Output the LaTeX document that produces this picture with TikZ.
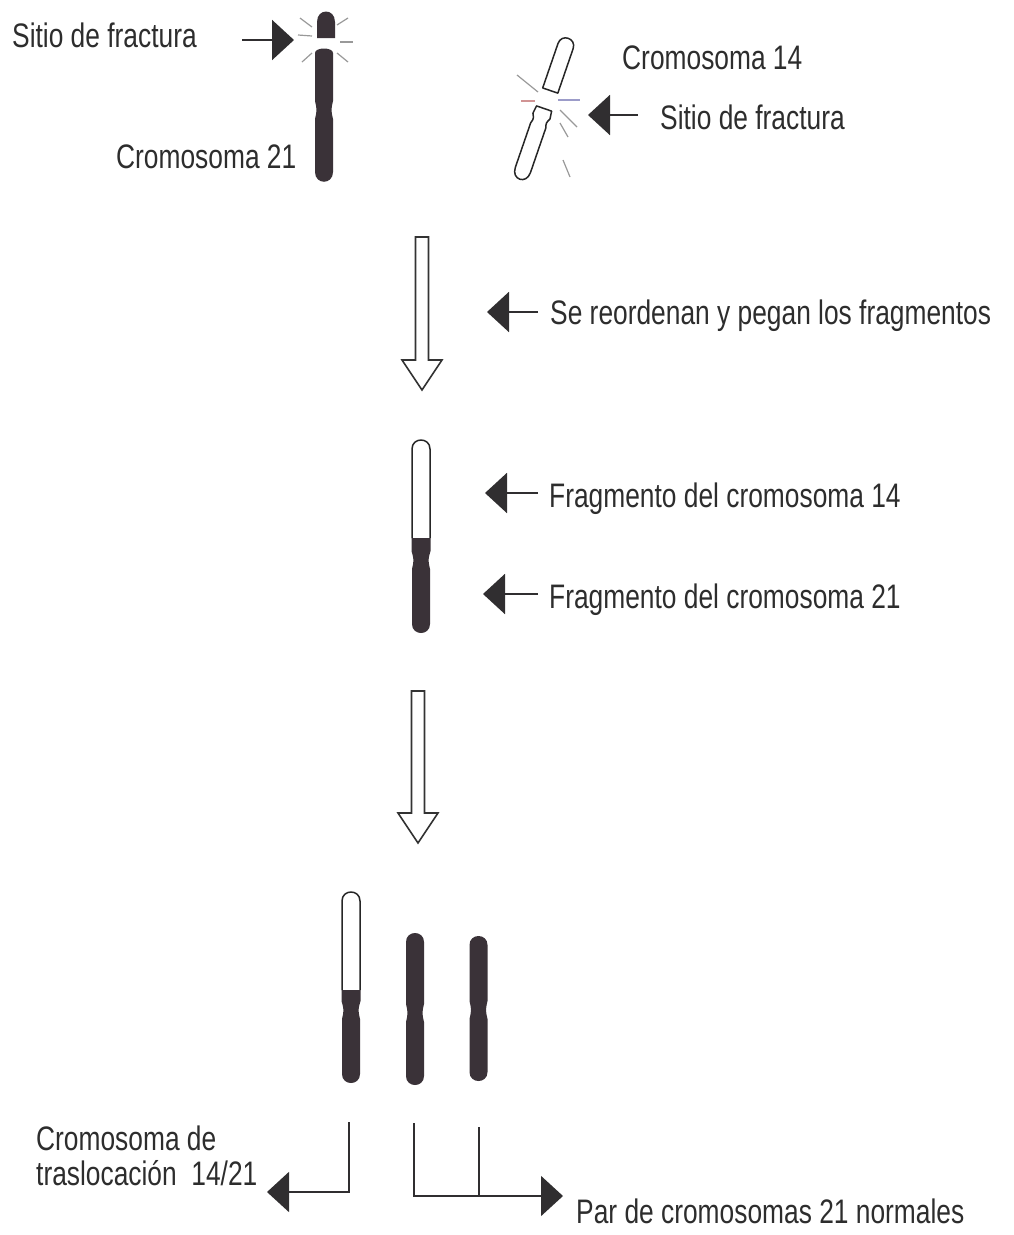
\documentclass[tikz,border=0pt]{standalone}
\usepackage{fontspec}
\setmainfont{Liberation Sans}[FakeStretch=0.775]
\usetikzlibrary{arrows.meta}

\definecolor{chromfill}{RGB}{58,50,56}
\definecolor{txtgray}{RGB}{45,45,45}
\definecolor{arrgray}{RGB}{48,46,48}

% dark chromosome: centre x, top, bottom, centromere
\newcommand{\chromdark}[4]{%
\fill[chrom] (#1-9,#2+9) .. controls (#1-9,#2-3) and (#1+9,#2-3) .. (#1+9,#2+9) -- (#1+9,#4-9) .. controls (#1+7,#4) .. (#1+9,#4+9) -- (#1+9,#3-9) .. controls (#1+9,#3+3) and (#1-9,#3+3) .. (#1-9,#3-9) -- (#1-9,#4+9) .. controls (#1-7,#4) .. (#1-9,#4-9) -- cycle;}
% 14/21 chromosome: centre x, top, join, bottom, centromere
\newcommand{\chromswap}[5]{%
\draw[outl] (#1-9,#3) -- (#1-9,#2+9) .. controls (#1-9,#2-3) and (#1+9,#2-3) .. (#1+9,#2+9) -- (#1+9,#3);
\fill[chrom] (#1-9.5,#3) -- (#1+9.5,#3) -- (#1+9.5,#5-9) .. controls (#1+7,#5) .. (#1+9,#5+9) -- (#1+9,#4-9) .. controls (#1+9,#4+3) and (#1-9,#4+3) .. (#1-9,#4-9) -- (#1-9,#5+9) .. controls (#1-7,#5) .. (#1-9.5,#5-9) -- cycle;}
% open block arrow: centre x, top, head start, tip
\newcommand{\hollowarrow}[4]{%
\draw[hollow] (#1-6.5,#2) -- (#1+6.5,#2) -- (#1+6.5,#3) -- (#1+20,#3) -- (#1,#4) -- (#1-20,#3) -- (#1-6.5,#3) -- cycle;}

\begin{document}
\begin{tikzpicture}[x=1pt,y=1pt,yscale=-1,xscale=1,
  lbl/.style={font=\fontsize{34}{39}\selectfont, text=txtgray, inner sep=0pt, text height=25pt, text depth=0pt, anchor=west},
  pointer/.style={draw=arrgray, line width=2.2pt, -{Triangle[length=22pt,width=40pt]}},
  bracket/.style={draw=arrgray, line width=1.6pt},
  bracketarrow/.style={bracket, -{Triangle[length=22pt,width=40pt]}},
  burst/.style={draw=gray!80, line width=1.2pt},
  chrom/.style={fill=chromfill},
  outl/.style={draw=black!85, line width=1.5pt, fill=white, line join=round},
  hollow/.style={draw=black!80, line width=1.6pt, fill=white, line join=miter}]
\useasboundingbox (0,0) rectangle (1014,1235);

%Chromosome 21 broken at the top
\fill[chrom] (317,38) -- (317,22) .. controls (317,8) and (335,8) .. (335,22) -- (335,38) -- cycle;
\fill[chrom] (315,53) .. controls (315,47) and (333,47) .. (333,53) -- (333,101) .. controls (331,110) .. (333,119) -- (333,172) .. controls (333,185) and (315,185) .. (315,172) -- (315,119) .. controls (317,110) .. (315,101) -- cycle;
\draw[burst] (300,18) -- (312,27);
\draw[burst] (298,35) -- (312,36);
\draw[burst] (302,62) -- (312,53);
\draw[burst] (337,25) -- (348,18);
\draw[burst] (340,42) -- (353,42);
\draw[burst] (337,53) -- (348,62);

%Chromosome 14 broken, tilted
\begin{scope}[shift={(547,100)},rotate=19]
\draw[outl] (-8,-10) -- (-8,-57) .. controls (-8,-68) and (8,-68) .. (8,-57) -- (8,-10) -- cycle;
\draw[outl] (-8,9) -- (8,9) -- (9,17) .. controls (6.5,22) .. (8,27) -- (8,74) .. controls (8,87) and (-8,87) .. (-8,74) -- (-8,27) .. controls (-6.5,22) .. (-9,17) -- cycle;
\end{scope}
\draw[burst] (517,75) -- (538,92);
\draw[burst, draw=red!40!gray!60] (521,101) -- (535,101);
\draw[burst, draw=blue!30!gray!60] (558,100) -- (580,100);
\draw[burst] (560,110) -- (577,127);
\draw[burst] (560,123) -- (568,137);
\draw[burst] (563,160) -- (570,177);

% Text Node
\node[lbl] (sitioA) at (12,35) {Sitio de fractura};
\node[lbl] (crom21) at (116,156) {Cromosoma 21};
\node[lbl] (crom14) at (622,57) {Cromosoma 14};
\node[lbl] (sitioB) at (660,117) {Sitio de fractura};

\coordinate (tailA) at (242,40);
\coordinate (tipA) at (294,40);
\draw[pointer] (tailA) -- (tipA);
\coordinate (tailB) at (638,115);
\coordinate (tipB) at (588,115);
\draw[pointer] (tailB) -- (tipB);

%First step
\hollowarrow{422}{237}{360}{390}
\node[lbl] (reord) at (550,312) {Se reordenan y pegan los fragmentos};
\coordinate (tailR) at (538,312);
\coordinate (tipR) at (487,312);
\draw[pointer] (tailR) -- (tipR);

%Joined chromosome
\chromswap{421}{440}{538}{633}{560}
\node[lbl] (frag14) at (549,495) {Fragmento del cromosoma 14};
\node[lbl] (frag21) at (549,596) {Fragmento del cromosoma 21};
\coordinate (tailF) at (538,493);
\coordinate (tipF) at (485,493);
\draw[pointer] (tailF) -- (tipF);
\coordinate (tailG) at (538,594);
\coordinate (tipG) at (483,594);
\draw[pointer] (tailG) -- (tipG);

%Second step
\hollowarrow{418}{691}{813}{843}

%Resulting set
\chromswap{351}{892}{990}{1083}{1010}
\chromdark{415}{933}{1085}{1013}
\chromdark{478.5}{936}{1081}{1010}

\coordinate (legL) at (349,1122);
\coordinate (tipL) at (267,1192);
\draw[bracketarrow] (legL) |- (tipL);
\coordinate (legM) at (414,1123);
\coordinate (legN) at (479,1127);
\coordinate (tipM) at (563,1196);
\draw[bracketarrow] (legM) |- (tipM);
\draw[bracket] (legN) -- (legN |- tipM);

\node[lbl] (cromde) at (36,1138) {Cromosoma de};
\node[lbl] (trasl) at (36,1173) {traslocación\ \ 14/21};
\node[lbl] (parnorm) at (576,1211) {Par de cromosomas 21 normales};
\end{tikzpicture}
\end{document}
